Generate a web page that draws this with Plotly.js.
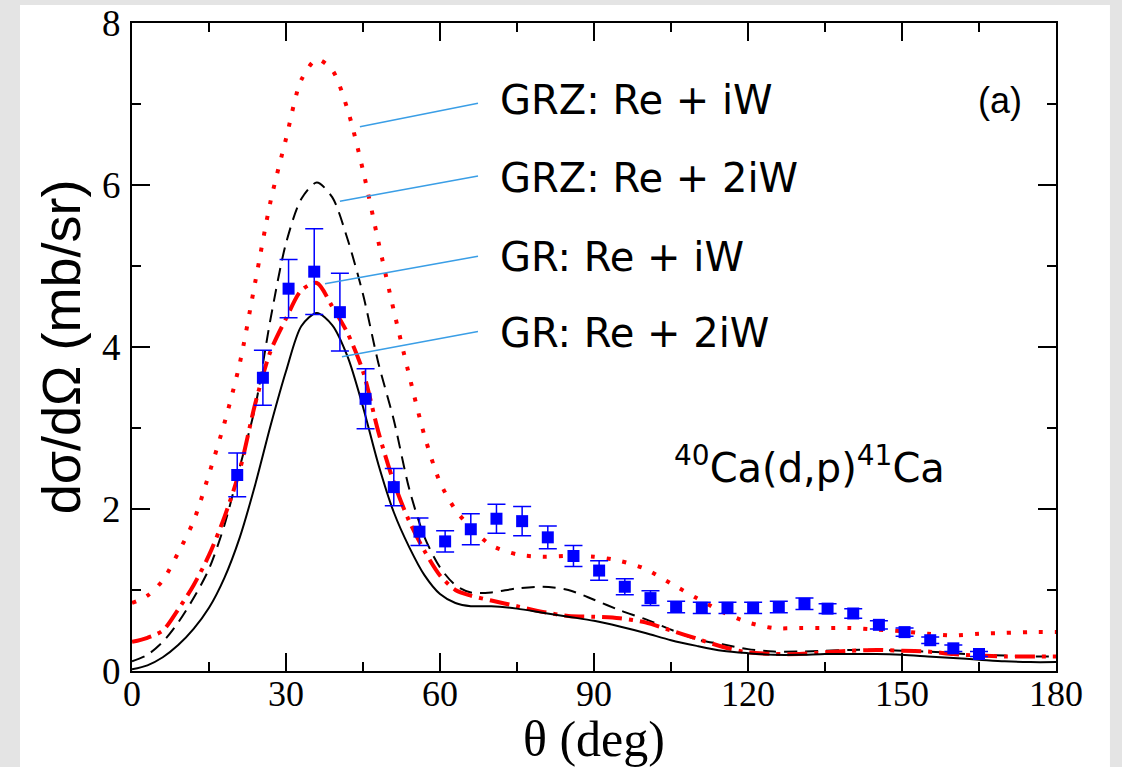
<!DOCTYPE html>
<html>
<head>
<meta charset="utf-8">
<script src="https://cdn.plot.ly/plotly-3.0.1.min.js"></script>
<style>html,body{margin:0;padding:0;background:#e4e4e4;}#chart{width:1122px;height:767px;}</style>
</head>
<body>
<div id="chart"></div>
<script>
// Theory curves (angle grid in degrees)
const theta = [0,3,6,9,12,15,18,21,24,27,30,33,36,39,42,45,48,51,54,57,60,63,66,70,75,80,85,90,95,100,105,110,115,120,125,130,135,140,145,150,155,160,165,170,175,180];
const grzReIW  = [0.84,0.93,1.12,1.46,1.85,2.43,3.06,3.8,4.8,5.8,6.57,7.3,7.55,7.42,6.93,6.18,5.3,4.45,3.65,2.9,2.33,1.99,1.77,1.55,1.44,1.41,1.42,1.41,1.36,1.26,1.08,0.9,0.73,0.6,0.53,0.53,0.53,0.53,0.51,0.49,0.46,0.44,0.46,0.47,0.48,0.48];
const grzRe2IW = [0.12,0.2,0.36,0.6,0.9,1.26,1.8,2.52,3.26,4.35,5.28,5.83,6.03,5.85,5.33,4.65,3.8,3.1,2.25,1.65,1.28,1.06,0.97,0.97,1.02,1.04,1.0,0.88,0.75,0.64,0.51,0.39,0.33,0.27,0.24,0.24,0.25,0.26,0.26,0.25,0.24,0.22,0.2,0.19,0.18,0.18];
const grReIW   = [0.36,0.41,0.5,0.76,1.06,1.43,1.9,2.48,3.3,3.95,4.35,4.7,4.79,4.5,4.17,3.7,2.95,2.33,1.85,1.48,1.18,1.0,0.93,0.87,0.8,0.73,0.68,0.67,0.65,0.6,0.5,0.4,0.3,0.23,0.21,0.21,0.23,0.25,0.26,0.25,0.24,0.21,0.19,0.18,0.18,0.18];
const grRe2IW  = [0.02,0.07,0.17,0.32,0.52,0.78,1.15,1.65,2.3,3.03,3.7,4.26,4.42,4.27,3.88,3.26,2.55,1.96,1.53,1.18,0.95,0.84,0.8,0.8,0.77,0.72,0.67,0.62,0.55,0.47,0.38,0.31,0.25,0.22,0.2,0.2,0.21,0.21,0.21,0.2,0.18,0.16,0.14,0.12,0.11,0.11];

// Experimental data
const expTheta = [20.5,25.5,30.5,35.5,40.5,45.5,51,56,61,66,71,76,81,86,91,96,101,106,111,116,121,126,131,135.5,140.5,145.5,150.5,155.5,160,165];
const expXs    = [2.42,3.62,4.72,4.93,4.43,3.36,2.27,1.72,1.6,1.75,1.88,1.85,1.65,1.42,1.24,1.04,0.9,0.79,0.78,0.78,0.78,0.79,0.83,0.77,0.71,0.57,0.48,0.38,0.28,0.21];
const expErr   = [0.27,0.34,0.36,0.53,0.48,0.37,0.23,0.17,0.13,0.19,0.18,0.18,0.14,0.13,0.12,0.10,0.09,0.07,0.07,0.07,0.07,0.07,0.07,0.06,0.06,0.05,0.05,0.04,0.04,0.03];

// Labels
const labels = ["GRZ: Re + iW","GRZ: Re + 2iW","GR: Re + iW","GR: Re + 2iW"];
const xTicks = [0,30,60,90,120,150,180];
const yTicks = [0,2,4,6,8];

const traces = [
  {x: theta, y: grzReIW, mode:'lines', line:{color:'#ff0000', width:4, dash:'4px,12px', shape:'spline', smoothing:0.8}, name:labels[0]},
  {x: theta, y: grzRe2IW, mode:'lines', line:{color:'#000000', width:2, dash:'13px,8px', shape:'spline', smoothing:0.8}, name:labels[1]},
  {x: theta, y: grReIW, mode:'lines', line:{color:'#ff0000', width:4, dash:'20px,7px,4px,7px', shape:'spline', smoothing:0.8}, name:labels[2]},
  {x: theta, y: grRe2IW, mode:'lines', line:{color:'#000000', width:2, shape:'spline', smoothing:0.8}, name:labels[3]},
  {x: expTheta, y: expXs, mode:'markers', marker:{symbol:'square', size:12, color:'#0000ff'},
   error_y:{type:'data', array: expErr, visible:true, color:'#0000ff', thickness:1.5, width:9}, name:'data'}
];

const ax = {showgrid:false, zeroline:false, showline:true, linecolor:'#000', linewidth:2, mirror:'ticks',
  ticks:'inside', ticklen:18, tickwidth:2, tickcolor:'#000'};

// Callout line endpoints (curve side and label side), in data units
const calloutX0 = [44.4,40.5,37.6,40.9];
const calloutY0 = [6.72,5.80,4.78,3.88];
const calloutX1 = [67.4,67.4,67.4,67.4];
const calloutY1 = [7.01,6.11,5.12,4.19];
const labelY = [7.05,6.09,5.11,4.17];

const shapes = [
  {type:'rect', xref:'paper', yref:'paper', x0:-0.1212, x1:1.0584, y0:-0.2, y1:1.0278, fillcolor:'#ffffff', line:{width:0}, layer:'below'}
];
for (let i=0;i<4;i++) shapes.push({type:'line', xref:'x', yref:'y', x0:calloutX0[i], y0:calloutY0[i], x1:calloutX1[i], y1:calloutY1[i], line:{color:'#3a9ee6', width:1.5}});

const annotations = labels.map((t,i)=>({text:t, x:71.3, y:labelY[i], xref:'x', yref:'y', xanchor:'left', yanchor:'middle', showarrow:false, font:{family:'DejaVu Sans, sans-serif', size:40, color:'#000'}}));
annotations.push({text:'(a)', x:169.1, y:7.04, xref:'x', yref:'y', xanchor:'center', yanchor:'middle', showarrow:false, font:{family:'Liberation Sans, Arial, sans-serif', size:36, color:'#000'}});
annotations.push({text:'<sup>40</sup>Ca(d,p)<sup>41</sup>Ca', x:105.2, y:2.54, xref:'x', yref:'y', xanchor:'left', yanchor:'middle', showarrow:false, font:{family:'DejaVu Sans, sans-serif', size:40, color:'#000'}});

const layout = {
  width:1122, height:767,
  margin:{l:132, r:66, t:23, b:96},
  paper_bgcolor:'#e4e4e4', plot_bgcolor:'#ffffff',
  showlegend:false,
  font:{family:'Liberation Serif, Times New Roman, serif', color:'#000'},
  xaxis: Object.assign({}, ax, {range:[0,180], tickvals:xTicks, ticktext:xTicks.map(String),
    tickfont:{family:'Liberation Serif, serif', size:36}, ticklabelstandoff:-10,
    minor:{dtick:15, tick0:0, ticks:'inside', ticklen:9, tickwidth:2, tickcolor:'#000'},
    title:{text:'θ (deg)', font:{family:'Liberation Serif, serif', size:50}, standoff:2}}),
  yaxis: Object.assign({}, ax, {range:[0,8], tickvals:yTicks, ticktext:yTicks.map(String),
    tickfont:{family:'Liberation Serif, serif', size:37}, ticklabelstandoff:2,
    minor:{dtick:1, tick0:0, ticks:'inside', ticklen:9, tickwidth:2, tickcolor:'#000'},
    title:{text:'dσ/dΩ (mb/sr)', font:{family:'Liberation Sans, Arial, sans-serif', size:54}, standoff:4}}),
  shapes: shapes,
  annotations: annotations
};

Plotly.newPlot('chart', traces, layout, {displayModeBar:false, staticPlot:true});
</script>
</body>
</html>
